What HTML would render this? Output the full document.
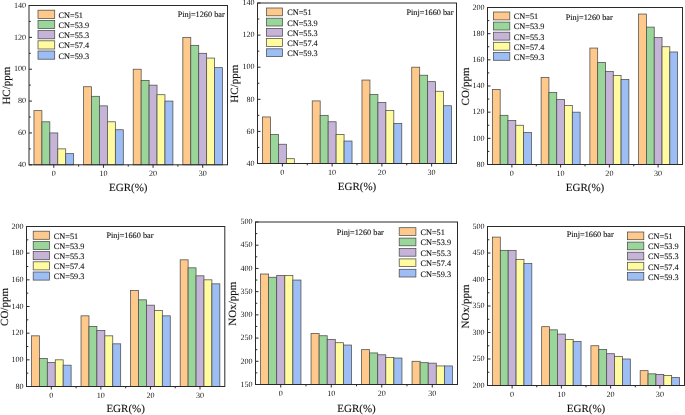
<!DOCTYPE html>
<html><head><meta charset="utf-8"><title>Charts</title>
<style>
html,body{margin:0;padding:0;background:#fff;}
body{width:685px;height:415px;overflow:hidden;}
svg{display:block;will-change:transform;}
svg text.t{stroke:none;fill:#1a1a1a;}
svg text{font-family:"Liberation Serif", serif;fill:#111;text-rendering:geometricPrecision;stroke:#111;stroke-width:0.22px;stroke-opacity:0.5;stroke-linejoin:round;stroke-linecap:round;paint-order:stroke fill;}
</style></head><body>
<svg width="685" height="415" viewBox="0 0 685 415">
<rect width="685" height="415" fill="#fff"/>
<rect x="33.96" y="110.64" width="7.94" height="54.16" fill="#FFC98C" stroke="#4c4c4c" stroke-width="0.75"/>
<rect x="41.9" y="121.79" width="7.94" height="43.01" fill="#9AD59A" stroke="#4c4c4c" stroke-width="0.75"/>
<rect x="49.84" y="132.94" width="7.94" height="31.86" fill="#C5B4D8" stroke="#4c4c4c" stroke-width="0.75"/>
<rect x="57.78" y="148.87" width="7.94" height="15.93" fill="#FFFB9E" stroke="#4c4c4c" stroke-width="0.75"/>
<rect x="65.72" y="153.65" width="7.94" height="11.15" fill="#9DBDF5" stroke="#4c4c4c" stroke-width="0.75"/>
<rect x="83.59" y="86.74" width="7.94" height="78.06" fill="#FFC98C" stroke="#4c4c4c" stroke-width="0.75"/>
<rect x="91.53" y="96.3" width="7.94" height="68.5" fill="#9AD59A" stroke="#4c4c4c" stroke-width="0.75"/>
<rect x="99.47" y="105.86" width="7.94" height="58.94" fill="#C5B4D8" stroke="#4c4c4c" stroke-width="0.75"/>
<rect x="107.41" y="121.79" width="7.94" height="43.01" fill="#FFFB9E" stroke="#4c4c4c" stroke-width="0.75"/>
<rect x="115.35" y="129.75" width="7.94" height="35.05" fill="#9DBDF5" stroke="#4c4c4c" stroke-width="0.75"/>
<rect x="133.21" y="69.22" width="7.94" height="95.58" fill="#FFC98C" stroke="#4c4c4c" stroke-width="0.75"/>
<rect x="141.15" y="80.37" width="7.94" height="84.43" fill="#9AD59A" stroke="#4c4c4c" stroke-width="0.75"/>
<rect x="149.09" y="85.15" width="7.94" height="79.65" fill="#C5B4D8" stroke="#4c4c4c" stroke-width="0.75"/>
<rect x="157.03" y="94.71" width="7.94" height="70.09" fill="#FFFB9E" stroke="#4c4c4c" stroke-width="0.75"/>
<rect x="164.97" y="101.08" width="7.94" height="63.72" fill="#9DBDF5" stroke="#4c4c4c" stroke-width="0.75"/>
<rect x="182.84" y="37.36" width="7.94" height="127.44" fill="#FFC98C" stroke="#4c4c4c" stroke-width="0.75"/>
<rect x="190.78" y="45.33" width="7.94" height="119.48" fill="#9AD59A" stroke="#4c4c4c" stroke-width="0.75"/>
<rect x="198.72" y="53.29" width="7.94" height="111.51" fill="#C5B4D8" stroke="#4c4c4c" stroke-width="0.75"/>
<rect x="206.66" y="58.07" width="7.94" height="106.73" fill="#FFFB9E" stroke="#4c4c4c" stroke-width="0.75"/>
<rect x="214.6" y="67.63" width="7.94" height="97.17" fill="#9DBDF5" stroke="#4c4c4c" stroke-width="0.75"/>
<rect x="29" y="5.5" width="198.5" height="159.3" fill="none" stroke="#2a2a2a" stroke-width="1"/>
<line x1="29" y1="164.8" x2="32" y2="164.8" stroke="#2a2a2a" stroke-width="1"/>
<text x="26.1" y="167.05" class="t" text-anchor="end" font-size="8.1">40</text>
<line x1="29" y1="148.87" x2="30.8" y2="148.87" stroke="#2a2a2a" stroke-width="1"/>
<line x1="29" y1="132.94" x2="32" y2="132.94" stroke="#2a2a2a" stroke-width="1"/>
<text x="26.1" y="135.19" class="t" text-anchor="end" font-size="8.1">60</text>
<line x1="29" y1="117.01" x2="30.8" y2="117.01" stroke="#2a2a2a" stroke-width="1"/>
<line x1="29" y1="101.08" x2="32" y2="101.08" stroke="#2a2a2a" stroke-width="1"/>
<text x="26.1" y="103.33" class="t" text-anchor="end" font-size="8.1">80</text>
<line x1="29" y1="85.15" x2="30.8" y2="85.15" stroke="#2a2a2a" stroke-width="1"/>
<line x1="29" y1="69.22" x2="32" y2="69.22" stroke="#2a2a2a" stroke-width="1"/>
<text x="26.1" y="71.47" class="t" text-anchor="end" font-size="8.1">100</text>
<line x1="29" y1="53.29" x2="30.8" y2="53.29" stroke="#2a2a2a" stroke-width="1"/>
<line x1="29" y1="37.36" x2="32" y2="37.36" stroke="#2a2a2a" stroke-width="1"/>
<text x="26.1" y="39.61" class="t" text-anchor="end" font-size="8.1">120</text>
<line x1="29" y1="21.43" x2="30.8" y2="21.43" stroke="#2a2a2a" stroke-width="1"/>
<line x1="29" y1="5.5" x2="32" y2="5.5" stroke="#2a2a2a" stroke-width="1"/>
<text x="26.1" y="7.75" class="t" text-anchor="end" font-size="8.1">140</text>
<line x1="53.81" y1="164.8" x2="53.81" y2="167.8" stroke="#2a2a2a" stroke-width="1"/>
<text x="53.81" y="176" class="t" text-anchor="middle" font-size="8.1">0</text>
<line x1="103.44" y1="164.8" x2="103.44" y2="167.8" stroke="#2a2a2a" stroke-width="1"/>
<text x="103.44" y="176" class="t" text-anchor="middle" font-size="8.1">10</text>
<line x1="153.06" y1="164.8" x2="153.06" y2="167.8" stroke="#2a2a2a" stroke-width="1"/>
<text x="153.06" y="176" class="t" text-anchor="middle" font-size="8.1">20</text>
<line x1="202.69" y1="164.8" x2="202.69" y2="167.8" stroke="#2a2a2a" stroke-width="1"/>
<text x="202.69" y="176" class="t" text-anchor="middle" font-size="8.1">30</text>
<line x1="78.62" y1="164.8" x2="78.62" y2="166.6" stroke="#2a2a2a" stroke-width="1"/>
<line x1="128.25" y1="164.8" x2="128.25" y2="166.6" stroke="#2a2a2a" stroke-width="1"/>
<line x1="177.88" y1="164.8" x2="177.88" y2="166.6" stroke="#2a2a2a" stroke-width="1"/>
<rect x="38" y="10.2" width="16.7" height="8.2" fill="#FFC98C" stroke="#4c4c4c" stroke-width="0.75"/>
<text x="58.6" y="17.7" font-size="8.25">CN=51</text>
<rect x="38" y="20.4" width="16.7" height="8.2" fill="#9AD59A" stroke="#4c4c4c" stroke-width="0.75"/>
<text x="58.6" y="27.9" font-size="8.25">CN=53.9</text>
<rect x="38" y="30.6" width="16.7" height="8.2" fill="#C5B4D8" stroke="#4c4c4c" stroke-width="0.75"/>
<text x="58.6" y="38.1" font-size="8.25">CN=55.3</text>
<rect x="38" y="40.8" width="16.7" height="8.2" fill="#FFFB9E" stroke="#4c4c4c" stroke-width="0.75"/>
<text x="58.6" y="48.3" font-size="8.25">CN=57.4</text>
<rect x="38" y="51" width="16.7" height="8.2" fill="#9DBDF5" stroke="#4c4c4c" stroke-width="0.75"/>
<text x="58.6" y="58.5" font-size="8.25">CN=59.3</text>
<text x="224.7" y="17.4" text-anchor="end" font-size="8.25">Pinj=1260 bar</text>
<text transform="translate(9.9,85.65) rotate(-90)" text-anchor="middle" font-size="11.0">HC/ppm</text>
<text x="128.25" y="191" text-anchor="middle" font-size="11.0">EGR(%)</text>
<rect x="262.48" y="116.96" width="7.96" height="46.54" fill="#FFC98C" stroke="#4c4c4c" stroke-width="0.75"/>
<rect x="270.44" y="134.61" width="7.96" height="28.89" fill="#9AD59A" stroke="#4c4c4c" stroke-width="0.75"/>
<rect x="278.4" y="144.24" width="7.96" height="19.26" fill="#C5B4D8" stroke="#4c4c4c" stroke-width="0.75"/>
<rect x="286.36" y="158.69" width="7.96" height="4.81" fill="#FFFB9E" stroke="#4c4c4c" stroke-width="0.75"/>
<rect x="312.23" y="100.91" width="7.96" height="62.59" fill="#FFC98C" stroke="#4c4c4c" stroke-width="0.75"/>
<rect x="320.19" y="115.35" width="7.96" height="48.15" fill="#9AD59A" stroke="#4c4c4c" stroke-width="0.75"/>
<rect x="328.15" y="121.77" width="7.96" height="41.73" fill="#C5B4D8" stroke="#4c4c4c" stroke-width="0.75"/>
<rect x="336.11" y="134.61" width="7.96" height="28.89" fill="#FFFB9E" stroke="#4c4c4c" stroke-width="0.75"/>
<rect x="344.07" y="141.03" width="7.96" height="22.47" fill="#9DBDF5" stroke="#4c4c4c" stroke-width="0.75"/>
<rect x="361.98" y="80.04" width="7.96" height="83.46" fill="#FFC98C" stroke="#4c4c4c" stroke-width="0.75"/>
<rect x="369.94" y="94.48" width="7.96" height="69.02" fill="#9AD59A" stroke="#4c4c4c" stroke-width="0.75"/>
<rect x="377.9" y="102.51" width="7.96" height="60.99" fill="#C5B4D8" stroke="#4c4c4c" stroke-width="0.75"/>
<rect x="385.86" y="110.53" width="7.96" height="52.97" fill="#FFFB9E" stroke="#4c4c4c" stroke-width="0.75"/>
<rect x="393.82" y="123.38" width="7.96" height="40.12" fill="#9DBDF5" stroke="#4c4c4c" stroke-width="0.75"/>
<rect x="411.73" y="67.2" width="7.96" height="96.3" fill="#FFC98C" stroke="#4c4c4c" stroke-width="0.75"/>
<rect x="419.69" y="75.22" width="7.96" height="88.28" fill="#9AD59A" stroke="#4c4c4c" stroke-width="0.75"/>
<rect x="427.65" y="81.64" width="7.96" height="81.86" fill="#C5B4D8" stroke="#4c4c4c" stroke-width="0.75"/>
<rect x="435.61" y="91.27" width="7.96" height="72.23" fill="#FFFB9E" stroke="#4c4c4c" stroke-width="0.75"/>
<rect x="443.57" y="105.72" width="7.96" height="57.78" fill="#9DBDF5" stroke="#4c4c4c" stroke-width="0.75"/>
<rect x="257.5" y="3" width="199" height="160.5" fill="none" stroke="#2a2a2a" stroke-width="1"/>
<line x1="257.5" y1="163.5" x2="260.5" y2="163.5" stroke="#2a2a2a" stroke-width="1"/>
<text x="254.6" y="165.75" class="t" text-anchor="end" font-size="8.1">40</text>
<line x1="257.5" y1="147.45" x2="259.3" y2="147.45" stroke="#2a2a2a" stroke-width="1"/>
<line x1="257.5" y1="131.4" x2="260.5" y2="131.4" stroke="#2a2a2a" stroke-width="1"/>
<text x="254.6" y="133.65" class="t" text-anchor="end" font-size="8.1">60</text>
<line x1="257.5" y1="115.35" x2="259.3" y2="115.35" stroke="#2a2a2a" stroke-width="1"/>
<line x1="257.5" y1="99.3" x2="260.5" y2="99.3" stroke="#2a2a2a" stroke-width="1"/>
<text x="254.6" y="101.55" class="t" text-anchor="end" font-size="8.1">80</text>
<line x1="257.5" y1="83.25" x2="259.3" y2="83.25" stroke="#2a2a2a" stroke-width="1"/>
<line x1="257.5" y1="67.2" x2="260.5" y2="67.2" stroke="#2a2a2a" stroke-width="1"/>
<text x="254.6" y="69.45" class="t" text-anchor="end" font-size="8.1">100</text>
<line x1="257.5" y1="51.15" x2="259.3" y2="51.15" stroke="#2a2a2a" stroke-width="1"/>
<line x1="257.5" y1="35.1" x2="260.5" y2="35.1" stroke="#2a2a2a" stroke-width="1"/>
<text x="254.6" y="37.35" class="t" text-anchor="end" font-size="8.1">120</text>
<line x1="257.5" y1="19.05" x2="259.3" y2="19.05" stroke="#2a2a2a" stroke-width="1"/>
<line x1="257.5" y1="3" x2="260.5" y2="3" stroke="#2a2a2a" stroke-width="1"/>
<text x="254.6" y="5.25" class="t" text-anchor="end" font-size="8.1">140</text>
<line x1="282.38" y1="163.5" x2="282.38" y2="166.5" stroke="#2a2a2a" stroke-width="1"/>
<text x="282.38" y="174.7" class="t" text-anchor="middle" font-size="8.1">0</text>
<line x1="332.12" y1="163.5" x2="332.12" y2="166.5" stroke="#2a2a2a" stroke-width="1"/>
<text x="332.12" y="174.7" class="t" text-anchor="middle" font-size="8.1">10</text>
<line x1="381.88" y1="163.5" x2="381.88" y2="166.5" stroke="#2a2a2a" stroke-width="1"/>
<text x="381.88" y="174.7" class="t" text-anchor="middle" font-size="8.1">20</text>
<line x1="431.62" y1="163.5" x2="431.62" y2="166.5" stroke="#2a2a2a" stroke-width="1"/>
<text x="431.62" y="174.7" class="t" text-anchor="middle" font-size="8.1">30</text>
<line x1="307.25" y1="163.5" x2="307.25" y2="165.3" stroke="#2a2a2a" stroke-width="1"/>
<line x1="357" y1="163.5" x2="357" y2="165.3" stroke="#2a2a2a" stroke-width="1"/>
<line x1="406.75" y1="163.5" x2="406.75" y2="165.3" stroke="#2a2a2a" stroke-width="1"/>
<rect x="266.5" y="8" width="16" height="7.8" fill="#FFC98C" stroke="#4c4c4c" stroke-width="0.75"/>
<text x="287.2" y="15.3" font-size="8.25">CN=51</text>
<rect x="266.5" y="18.2" width="16" height="7.8" fill="#9AD59A" stroke="#4c4c4c" stroke-width="0.75"/>
<text x="287.2" y="25.5" font-size="8.25">CN=53.9</text>
<rect x="266.5" y="28.4" width="16" height="7.8" fill="#C5B4D8" stroke="#4c4c4c" stroke-width="0.75"/>
<text x="287.2" y="35.7" font-size="8.25">CN=55.3</text>
<rect x="266.5" y="38.6" width="16" height="7.8" fill="#FFFB9E" stroke="#4c4c4c" stroke-width="0.75"/>
<text x="287.2" y="45.9" font-size="8.25">CN=57.4</text>
<rect x="266.5" y="48.8" width="16" height="7.8" fill="#9DBDF5" stroke="#4c4c4c" stroke-width="0.75"/>
<text x="287.2" y="56.1" font-size="8.25">CN=59.3</text>
<text x="453.5" y="14.5" text-anchor="end" font-size="8.25">Pinj=1660 bar</text>
<text transform="translate(238,83.75) rotate(-90)" text-anchor="middle" font-size="11.0">HC/ppm</text>
<text x="357" y="190" text-anchor="middle" font-size="11.0">EGR(%)</text>
<rect x="492.38" y="89.4" width="7.8" height="75.1" fill="#FFC98C" stroke="#4c4c4c" stroke-width="0.75"/>
<rect x="500.18" y="115.31" width="7.8" height="49.19" fill="#9AD59A" stroke="#4c4c4c" stroke-width="0.75"/>
<rect x="507.98" y="120.54" width="7.8" height="43.96" fill="#C5B4D8" stroke="#4c4c4c" stroke-width="0.75"/>
<rect x="515.77" y="125.25" width="7.8" height="39.25" fill="#FFFB9E" stroke="#4c4c4c" stroke-width="0.75"/>
<rect x="523.58" y="132.58" width="7.8" height="31.92" fill="#9DBDF5" stroke="#4c4c4c" stroke-width="0.75"/>
<rect x="541.12" y="77.37" width="7.8" height="87.13" fill="#FFC98C" stroke="#4c4c4c" stroke-width="0.75"/>
<rect x="548.92" y="92.54" width="7.8" height="71.96" fill="#9AD59A" stroke="#4c4c4c" stroke-width="0.75"/>
<rect x="556.73" y="99.61" width="7.8" height="64.89" fill="#C5B4D8" stroke="#4c4c4c" stroke-width="0.75"/>
<rect x="564.52" y="105.62" width="7.8" height="58.88" fill="#FFFB9E" stroke="#4c4c4c" stroke-width="0.75"/>
<rect x="572.33" y="112.17" width="7.8" height="52.33" fill="#9DBDF5" stroke="#4c4c4c" stroke-width="0.75"/>
<rect x="589.88" y="48.06" width="7.8" height="116.44" fill="#FFC98C" stroke="#4c4c4c" stroke-width="0.75"/>
<rect x="597.67" y="62.45" width="7.8" height="102.05" fill="#9AD59A" stroke="#4c4c4c" stroke-width="0.75"/>
<rect x="605.48" y="71.61" width="7.8" height="92.89" fill="#C5B4D8" stroke="#4c4c4c" stroke-width="0.75"/>
<rect x="613.27" y="75.53" width="7.8" height="88.97" fill="#FFFB9E" stroke="#4c4c4c" stroke-width="0.75"/>
<rect x="621.08" y="79.46" width="7.8" height="85.04" fill="#9DBDF5" stroke="#4c4c4c" stroke-width="0.75"/>
<rect x="638.62" y="14.04" width="7.8" height="150.46" fill="#FFC98C" stroke="#4c4c4c" stroke-width="0.75"/>
<rect x="646.42" y="27.12" width="7.8" height="137.38" fill="#9AD59A" stroke="#4c4c4c" stroke-width="0.75"/>
<rect x="654.23" y="37.59" width="7.8" height="126.91" fill="#C5B4D8" stroke="#4c4c4c" stroke-width="0.75"/>
<rect x="662.02" y="46.75" width="7.8" height="117.75" fill="#FFFB9E" stroke="#4c4c4c" stroke-width="0.75"/>
<rect x="669.83" y="51.98" width="7.8" height="112.52" fill="#9DBDF5" stroke="#4c4c4c" stroke-width="0.75"/>
<rect x="487.5" y="7.5" width="195" height="157" fill="none" stroke="#2a2a2a" stroke-width="1"/>
<line x1="487.5" y1="164.5" x2="490.5" y2="164.5" stroke="#2a2a2a" stroke-width="1"/>
<text x="484.6" y="166.75" class="t" text-anchor="end" font-size="8.1">80</text>
<line x1="487.5" y1="151.42" x2="489.3" y2="151.42" stroke="#2a2a2a" stroke-width="1"/>
<line x1="487.5" y1="138.33" x2="490.5" y2="138.33" stroke="#2a2a2a" stroke-width="1"/>
<text x="484.6" y="140.58" class="t" text-anchor="end" font-size="8.1">100</text>
<line x1="487.5" y1="125.25" x2="489.3" y2="125.25" stroke="#2a2a2a" stroke-width="1"/>
<line x1="487.5" y1="112.17" x2="490.5" y2="112.17" stroke="#2a2a2a" stroke-width="1"/>
<text x="484.6" y="114.42" class="t" text-anchor="end" font-size="8.1">120</text>
<line x1="487.5" y1="99.08" x2="489.3" y2="99.08" stroke="#2a2a2a" stroke-width="1"/>
<line x1="487.5" y1="86" x2="490.5" y2="86" stroke="#2a2a2a" stroke-width="1"/>
<text x="484.6" y="88.25" class="t" text-anchor="end" font-size="8.1">140</text>
<line x1="487.5" y1="72.92" x2="489.3" y2="72.92" stroke="#2a2a2a" stroke-width="1"/>
<line x1="487.5" y1="59.83" x2="490.5" y2="59.83" stroke="#2a2a2a" stroke-width="1"/>
<text x="484.6" y="62.08" class="t" text-anchor="end" font-size="8.1">160</text>
<line x1="487.5" y1="46.75" x2="489.3" y2="46.75" stroke="#2a2a2a" stroke-width="1"/>
<line x1="487.5" y1="33.67" x2="490.5" y2="33.67" stroke="#2a2a2a" stroke-width="1"/>
<text x="484.6" y="35.92" class="t" text-anchor="end" font-size="8.1">180</text>
<line x1="487.5" y1="20.58" x2="489.3" y2="20.58" stroke="#2a2a2a" stroke-width="1"/>
<line x1="487.5" y1="7.5" x2="490.5" y2="7.5" stroke="#2a2a2a" stroke-width="1"/>
<text x="484.6" y="9.75" class="t" text-anchor="end" font-size="8.1">200</text>
<line x1="511.88" y1="164.5" x2="511.88" y2="167.5" stroke="#2a2a2a" stroke-width="1"/>
<text x="511.88" y="175.7" class="t" text-anchor="middle" font-size="8.1">0</text>
<line x1="560.62" y1="164.5" x2="560.62" y2="167.5" stroke="#2a2a2a" stroke-width="1"/>
<text x="560.62" y="175.7" class="t" text-anchor="middle" font-size="8.1">10</text>
<line x1="609.38" y1="164.5" x2="609.38" y2="167.5" stroke="#2a2a2a" stroke-width="1"/>
<text x="609.38" y="175.7" class="t" text-anchor="middle" font-size="8.1">20</text>
<line x1="658.12" y1="164.5" x2="658.12" y2="167.5" stroke="#2a2a2a" stroke-width="1"/>
<text x="658.12" y="175.7" class="t" text-anchor="middle" font-size="8.1">30</text>
<line x1="536.25" y1="164.5" x2="536.25" y2="166.3" stroke="#2a2a2a" stroke-width="1"/>
<line x1="585" y1="164.5" x2="585" y2="166.3" stroke="#2a2a2a" stroke-width="1"/>
<line x1="633.75" y1="164.5" x2="633.75" y2="166.3" stroke="#2a2a2a" stroke-width="1"/>
<rect x="493.4" y="12" width="16.4" height="7.9" fill="#FFC98C" stroke="#4c4c4c" stroke-width="0.75"/>
<text x="513.8" y="19.35" font-size="8.25">CN=51</text>
<rect x="493.4" y="22.1" width="16.4" height="7.9" fill="#9AD59A" stroke="#4c4c4c" stroke-width="0.75"/>
<text x="513.8" y="29.45" font-size="8.25">CN=53.9</text>
<rect x="493.4" y="32.2" width="16.4" height="7.9" fill="#C5B4D8" stroke="#4c4c4c" stroke-width="0.75"/>
<text x="513.8" y="39.55" font-size="8.25">CN=55.3</text>
<rect x="493.4" y="42.3" width="16.4" height="7.9" fill="#FFFB9E" stroke="#4c4c4c" stroke-width="0.75"/>
<text x="513.8" y="49.65" font-size="8.25">CN=57.4</text>
<rect x="493.4" y="52.4" width="16.4" height="7.9" fill="#9DBDF5" stroke="#4c4c4c" stroke-width="0.75"/>
<text x="513.8" y="59.75" font-size="8.25">CN=59.3</text>
<text x="565.7" y="19.8" text-anchor="start" font-size="8.25">Pinj=1260 bar</text>
<text transform="translate(468.8,86.5) rotate(-90)" text-anchor="middle" font-size="11.0">CO/ppm</text>
<text x="585" y="191" text-anchor="middle" font-size="11.0">EGR(%)</text>
<rect x="31.46" y="335.83" width="7.93" height="50.67" fill="#FFC98C" stroke="#4c4c4c" stroke-width="0.75"/>
<rect x="39.39" y="358.5" width="7.93" height="28" fill="#9AD59A" stroke="#4c4c4c" stroke-width="0.75"/>
<rect x="47.32" y="362.5" width="7.93" height="24" fill="#C5B4D8" stroke="#4c4c4c" stroke-width="0.75"/>
<rect x="55.25" y="359.83" width="7.93" height="26.67" fill="#FFFB9E" stroke="#4c4c4c" stroke-width="0.75"/>
<rect x="63.19" y="365.17" width="7.93" height="21.33" fill="#9DBDF5" stroke="#4c4c4c" stroke-width="0.75"/>
<rect x="81.03" y="315.83" width="7.93" height="70.67" fill="#FFC98C" stroke="#4c4c4c" stroke-width="0.75"/>
<rect x="88.96" y="326.5" width="7.93" height="60" fill="#9AD59A" stroke="#4c4c4c" stroke-width="0.75"/>
<rect x="96.9" y="330.5" width="7.93" height="56" fill="#C5B4D8" stroke="#4c4c4c" stroke-width="0.75"/>
<rect x="104.83" y="335.83" width="7.93" height="50.67" fill="#FFFB9E" stroke="#4c4c4c" stroke-width="0.75"/>
<rect x="112.76" y="343.83" width="7.93" height="42.67" fill="#9DBDF5" stroke="#4c4c4c" stroke-width="0.75"/>
<rect x="130.61" y="290.5" width="7.93" height="96" fill="#FFC98C" stroke="#4c4c4c" stroke-width="0.75"/>
<rect x="138.54" y="299.83" width="7.93" height="86.67" fill="#9AD59A" stroke="#4c4c4c" stroke-width="0.75"/>
<rect x="146.47" y="305.17" width="7.93" height="81.33" fill="#C5B4D8" stroke="#4c4c4c" stroke-width="0.75"/>
<rect x="154.4" y="310.5" width="7.93" height="76" fill="#FFFB9E" stroke="#4c4c4c" stroke-width="0.75"/>
<rect x="162.34" y="315.83" width="7.93" height="70.67" fill="#9DBDF5" stroke="#4c4c4c" stroke-width="0.75"/>
<rect x="180.18" y="259.83" width="7.93" height="126.67" fill="#FFC98C" stroke="#4c4c4c" stroke-width="0.75"/>
<rect x="188.11" y="267.83" width="7.93" height="118.67" fill="#9AD59A" stroke="#4c4c4c" stroke-width="0.75"/>
<rect x="196.05" y="275.83" width="7.93" height="110.67" fill="#C5B4D8" stroke="#4c4c4c" stroke-width="0.75"/>
<rect x="203.98" y="279.83" width="7.93" height="106.67" fill="#FFFB9E" stroke="#4c4c4c" stroke-width="0.75"/>
<rect x="211.91" y="283.83" width="7.93" height="102.67" fill="#9DBDF5" stroke="#4c4c4c" stroke-width="0.75"/>
<rect x="26.5" y="226.5" width="198.3" height="160" fill="none" stroke="#2a2a2a" stroke-width="1"/>
<line x1="26.5" y1="386.5" x2="29.5" y2="386.5" stroke="#2a2a2a" stroke-width="1"/>
<text x="23.6" y="388.75" class="t" text-anchor="end" font-size="8.1">80</text>
<line x1="26.5" y1="373.17" x2="28.3" y2="373.17" stroke="#2a2a2a" stroke-width="1"/>
<line x1="26.5" y1="359.83" x2="29.5" y2="359.83" stroke="#2a2a2a" stroke-width="1"/>
<text x="23.6" y="362.08" class="t" text-anchor="end" font-size="8.1">100</text>
<line x1="26.5" y1="346.5" x2="28.3" y2="346.5" stroke="#2a2a2a" stroke-width="1"/>
<line x1="26.5" y1="333.17" x2="29.5" y2="333.17" stroke="#2a2a2a" stroke-width="1"/>
<text x="23.6" y="335.42" class="t" text-anchor="end" font-size="8.1">120</text>
<line x1="26.5" y1="319.83" x2="28.3" y2="319.83" stroke="#2a2a2a" stroke-width="1"/>
<line x1="26.5" y1="306.5" x2="29.5" y2="306.5" stroke="#2a2a2a" stroke-width="1"/>
<text x="23.6" y="308.75" class="t" text-anchor="end" font-size="8.1">140</text>
<line x1="26.5" y1="293.17" x2="28.3" y2="293.17" stroke="#2a2a2a" stroke-width="1"/>
<line x1="26.5" y1="279.83" x2="29.5" y2="279.83" stroke="#2a2a2a" stroke-width="1"/>
<text x="23.6" y="282.08" class="t" text-anchor="end" font-size="8.1">160</text>
<line x1="26.5" y1="266.5" x2="28.3" y2="266.5" stroke="#2a2a2a" stroke-width="1"/>
<line x1="26.5" y1="253.17" x2="29.5" y2="253.17" stroke="#2a2a2a" stroke-width="1"/>
<text x="23.6" y="255.42" class="t" text-anchor="end" font-size="8.1">180</text>
<line x1="26.5" y1="239.83" x2="28.3" y2="239.83" stroke="#2a2a2a" stroke-width="1"/>
<line x1="26.5" y1="226.5" x2="29.5" y2="226.5" stroke="#2a2a2a" stroke-width="1"/>
<text x="23.6" y="228.75" class="t" text-anchor="end" font-size="8.1">200</text>
<line x1="51.29" y1="386.5" x2="51.29" y2="389.5" stroke="#2a2a2a" stroke-width="1"/>
<text x="51.29" y="397.7" class="t" text-anchor="middle" font-size="8.1">0</text>
<line x1="100.86" y1="386.5" x2="100.86" y2="389.5" stroke="#2a2a2a" stroke-width="1"/>
<text x="100.86" y="397.7" class="t" text-anchor="middle" font-size="8.1">10</text>
<line x1="150.44" y1="386.5" x2="150.44" y2="389.5" stroke="#2a2a2a" stroke-width="1"/>
<text x="150.44" y="397.7" class="t" text-anchor="middle" font-size="8.1">20</text>
<line x1="200.01" y1="386.5" x2="200.01" y2="389.5" stroke="#2a2a2a" stroke-width="1"/>
<text x="200.01" y="397.7" class="t" text-anchor="middle" font-size="8.1">30</text>
<line x1="76.08" y1="386.5" x2="76.08" y2="388.3" stroke="#2a2a2a" stroke-width="1"/>
<line x1="125.65" y1="386.5" x2="125.65" y2="388.3" stroke="#2a2a2a" stroke-width="1"/>
<line x1="175.23" y1="386.5" x2="175.23" y2="388.3" stroke="#2a2a2a" stroke-width="1"/>
<rect x="33.2" y="231.2" width="16.3" height="8.1" fill="#FFC98C" stroke="#4c4c4c" stroke-width="0.75"/>
<text x="53.8" y="238.65" font-size="8.25">CN=51</text>
<rect x="33.2" y="241.4" width="16.3" height="8.1" fill="#9AD59A" stroke="#4c4c4c" stroke-width="0.75"/>
<text x="53.8" y="248.85" font-size="8.25">CN=53.9</text>
<rect x="33.2" y="251.6" width="16.3" height="8.1" fill="#C5B4D8" stroke="#4c4c4c" stroke-width="0.75"/>
<text x="53.8" y="259.05" font-size="8.25">CN=55.3</text>
<rect x="33.2" y="261.8" width="16.3" height="8.1" fill="#FFFB9E" stroke="#4c4c4c" stroke-width="0.75"/>
<text x="53.8" y="269.25" font-size="8.25">CN=57.4</text>
<rect x="33.2" y="272" width="16.3" height="8.1" fill="#9DBDF5" stroke="#4c4c4c" stroke-width="0.75"/>
<text x="53.8" y="279.45" font-size="8.25">CN=59.3</text>
<text x="106.4" y="237.9" text-anchor="start" font-size="8.25">Pinj=1660 bar</text>
<text transform="translate(8,307) rotate(-90)" text-anchor="middle" font-size="11.0">CO/ppm</text>
<text x="125.65" y="412" text-anchor="middle" font-size="11.0">EGR(%)</text>
<rect x="260.55" y="274" width="8.08" height="110.5" fill="#FFC98C" stroke="#4c4c4c" stroke-width="0.75"/>
<rect x="268.63" y="277.25" width="8.08" height="107.25" fill="#9AD59A" stroke="#4c4c4c" stroke-width="0.75"/>
<rect x="276.71" y="275.39" width="8.08" height="109.11" fill="#C5B4D8" stroke="#4c4c4c" stroke-width="0.75"/>
<rect x="284.79" y="275.39" width="8.08" height="109.11" fill="#FFFB9E" stroke="#4c4c4c" stroke-width="0.75"/>
<rect x="292.87" y="280.04" width="8.08" height="104.46" fill="#9DBDF5" stroke="#4c4c4c" stroke-width="0.75"/>
<rect x="311.05" y="333.43" width="8.08" height="51.07" fill="#FFC98C" stroke="#4c4c4c" stroke-width="0.75"/>
<rect x="319.13" y="335.75" width="8.08" height="48.75" fill="#9AD59A" stroke="#4c4c4c" stroke-width="0.75"/>
<rect x="327.21" y="339.46" width="8.08" height="45.04" fill="#C5B4D8" stroke="#4c4c4c" stroke-width="0.75"/>
<rect x="335.29" y="342.71" width="8.08" height="41.79" fill="#FFFB9E" stroke="#4c4c4c" stroke-width="0.75"/>
<rect x="343.37" y="345.04" width="8.08" height="39.46" fill="#9DBDF5" stroke="#4c4c4c" stroke-width="0.75"/>
<rect x="361.55" y="349.68" width="8.08" height="34.82" fill="#FFC98C" stroke="#4c4c4c" stroke-width="0.75"/>
<rect x="369.63" y="352.93" width="8.08" height="31.57" fill="#9AD59A" stroke="#4c4c4c" stroke-width="0.75"/>
<rect x="377.71" y="354.79" width="8.08" height="29.71" fill="#C5B4D8" stroke="#4c4c4c" stroke-width="0.75"/>
<rect x="385.79" y="357.57" width="8.08" height="26.93" fill="#FFFB9E" stroke="#4c4c4c" stroke-width="0.75"/>
<rect x="393.87" y="358.04" width="8.08" height="26.46" fill="#9DBDF5" stroke="#4c4c4c" stroke-width="0.75"/>
<rect x="412.05" y="361.29" width="8.08" height="23.21" fill="#FFC98C" stroke="#4c4c4c" stroke-width="0.75"/>
<rect x="420.13" y="362.68" width="8.08" height="21.82" fill="#9AD59A" stroke="#4c4c4c" stroke-width="0.75"/>
<rect x="428.21" y="363.14" width="8.08" height="21.36" fill="#C5B4D8" stroke="#4c4c4c" stroke-width="0.75"/>
<rect x="436.29" y="365.93" width="8.08" height="18.57" fill="#FFFB9E" stroke="#4c4c4c" stroke-width="0.75"/>
<rect x="444.37" y="365.93" width="8.08" height="18.57" fill="#9DBDF5" stroke="#4c4c4c" stroke-width="0.75"/>
<rect x="255.5" y="222" width="202" height="162.5" fill="none" stroke="#2a2a2a" stroke-width="1"/>
<line x1="255.5" y1="384.5" x2="258.5" y2="384.5" stroke="#2a2a2a" stroke-width="1"/>
<text x="252.6" y="386.75" class="t" text-anchor="end" font-size="8.1">150</text>
<line x1="255.5" y1="372.89" x2="257.3" y2="372.89" stroke="#2a2a2a" stroke-width="1"/>
<line x1="255.5" y1="361.29" x2="258.5" y2="361.29" stroke="#2a2a2a" stroke-width="1"/>
<text x="252.6" y="363.54" class="t" text-anchor="end" font-size="8.1">200</text>
<line x1="255.5" y1="349.68" x2="257.3" y2="349.68" stroke="#2a2a2a" stroke-width="1"/>
<line x1="255.5" y1="338.07" x2="258.5" y2="338.07" stroke="#2a2a2a" stroke-width="1"/>
<text x="252.6" y="340.32" class="t" text-anchor="end" font-size="8.1">250</text>
<line x1="255.5" y1="326.46" x2="257.3" y2="326.46" stroke="#2a2a2a" stroke-width="1"/>
<line x1="255.5" y1="314.86" x2="258.5" y2="314.86" stroke="#2a2a2a" stroke-width="1"/>
<text x="252.6" y="317.11" class="t" text-anchor="end" font-size="8.1">300</text>
<line x1="255.5" y1="303.25" x2="257.3" y2="303.25" stroke="#2a2a2a" stroke-width="1"/>
<line x1="255.5" y1="291.64" x2="258.5" y2="291.64" stroke="#2a2a2a" stroke-width="1"/>
<text x="252.6" y="293.89" class="t" text-anchor="end" font-size="8.1">350</text>
<line x1="255.5" y1="280.04" x2="257.3" y2="280.04" stroke="#2a2a2a" stroke-width="1"/>
<line x1="255.5" y1="268.43" x2="258.5" y2="268.43" stroke="#2a2a2a" stroke-width="1"/>
<text x="252.6" y="270.68" class="t" text-anchor="end" font-size="8.1">400</text>
<line x1="255.5" y1="256.82" x2="257.3" y2="256.82" stroke="#2a2a2a" stroke-width="1"/>
<line x1="255.5" y1="245.21" x2="258.5" y2="245.21" stroke="#2a2a2a" stroke-width="1"/>
<text x="252.6" y="247.46" class="t" text-anchor="end" font-size="8.1">450</text>
<line x1="255.5" y1="233.61" x2="257.3" y2="233.61" stroke="#2a2a2a" stroke-width="1"/>
<line x1="255.5" y1="222" x2="258.5" y2="222" stroke="#2a2a2a" stroke-width="1"/>
<text x="252.6" y="224.25" class="t" text-anchor="end" font-size="8.1">500</text>
<line x1="280.75" y1="384.5" x2="280.75" y2="387.5" stroke="#2a2a2a" stroke-width="1"/>
<text x="280.75" y="395.7" class="t" text-anchor="middle" font-size="8.1">0</text>
<line x1="331.25" y1="384.5" x2="331.25" y2="387.5" stroke="#2a2a2a" stroke-width="1"/>
<text x="331.25" y="395.7" class="t" text-anchor="middle" font-size="8.1">10</text>
<line x1="381.75" y1="384.5" x2="381.75" y2="387.5" stroke="#2a2a2a" stroke-width="1"/>
<text x="381.75" y="395.7" class="t" text-anchor="middle" font-size="8.1">20</text>
<line x1="432.25" y1="384.5" x2="432.25" y2="387.5" stroke="#2a2a2a" stroke-width="1"/>
<text x="432.25" y="395.7" class="t" text-anchor="middle" font-size="8.1">30</text>
<line x1="306" y1="384.5" x2="306" y2="386.3" stroke="#2a2a2a" stroke-width="1"/>
<line x1="356.5" y1="384.5" x2="356.5" y2="386.3" stroke="#2a2a2a" stroke-width="1"/>
<line x1="407" y1="384.5" x2="407" y2="386.3" stroke="#2a2a2a" stroke-width="1"/>
<rect x="399.2" y="227.7" width="16.7" height="7.7" fill="#FFC98C" stroke="#4c4c4c" stroke-width="0.75"/>
<text x="420.5" y="234.95" font-size="8.25">CN=51</text>
<rect x="399.2" y="238.1" width="16.7" height="7.7" fill="#9AD59A" stroke="#4c4c4c" stroke-width="0.75"/>
<text x="420.5" y="245.35" font-size="8.25">CN=53.9</text>
<rect x="399.2" y="248.5" width="16.7" height="7.7" fill="#C5B4D8" stroke="#4c4c4c" stroke-width="0.75"/>
<text x="420.5" y="255.75" font-size="8.25">CN=55.3</text>
<rect x="399.2" y="258.9" width="16.7" height="7.7" fill="#FFFB9E" stroke="#4c4c4c" stroke-width="0.75"/>
<text x="420.5" y="266.15" font-size="8.25">CN=57.4</text>
<rect x="399.2" y="269.3" width="16.7" height="7.7" fill="#9DBDF5" stroke="#4c4c4c" stroke-width="0.75"/>
<text x="420.5" y="276.55" font-size="8.25">CN=59.3</text>
<text x="336.8" y="234.6" text-anchor="start" font-size="8.25">Pinj=1260 bar</text>
<text transform="translate(236,303.75) rotate(-90)" text-anchor="middle" font-size="11.0">NOx/ppm</text>
<text x="356.5" y="412" text-anchor="middle" font-size="11.0">EGR(%)</text>
<rect x="492.43" y="237.1" width="7.88" height="148.4" fill="#FFC98C" stroke="#4c4c4c" stroke-width="0.75"/>
<rect x="500.31" y="250.35" width="7.88" height="135.15" fill="#9AD59A" stroke="#4c4c4c" stroke-width="0.75"/>
<rect x="508.19" y="250.35" width="7.88" height="135.15" fill="#C5B4D8" stroke="#4c4c4c" stroke-width="0.75"/>
<rect x="516.07" y="259.36" width="7.88" height="126.14" fill="#FFFB9E" stroke="#4c4c4c" stroke-width="0.75"/>
<rect x="523.95" y="263.6" width="7.88" height="121.9" fill="#9DBDF5" stroke="#4c4c4c" stroke-width="0.75"/>
<rect x="541.67" y="326.67" width="7.88" height="58.83" fill="#FFC98C" stroke="#4c4c4c" stroke-width="0.75"/>
<rect x="549.55" y="329.85" width="7.88" height="55.65" fill="#9AD59A" stroke="#4c4c4c" stroke-width="0.75"/>
<rect x="557.43" y="334.09" width="7.88" height="51.41" fill="#C5B4D8" stroke="#4c4c4c" stroke-width="0.75"/>
<rect x="565.31" y="339.39" width="7.88" height="46.11" fill="#FFFB9E" stroke="#4c4c4c" stroke-width="0.75"/>
<rect x="573.19" y="341.51" width="7.88" height="43.99" fill="#9DBDF5" stroke="#4c4c4c" stroke-width="0.75"/>
<rect x="590.92" y="345.75" width="7.88" height="39.75" fill="#FFC98C" stroke="#4c4c4c" stroke-width="0.75"/>
<rect x="598.8" y="349.46" width="7.88" height="36.04" fill="#9AD59A" stroke="#4c4c4c" stroke-width="0.75"/>
<rect x="606.68" y="353.7" width="7.88" height="31.8" fill="#C5B4D8" stroke="#4c4c4c" stroke-width="0.75"/>
<rect x="614.56" y="356.35" width="7.88" height="29.15" fill="#FFFB9E" stroke="#4c4c4c" stroke-width="0.75"/>
<rect x="622.44" y="359" width="7.88" height="26.5" fill="#9DBDF5" stroke="#4c4c4c" stroke-width="0.75"/>
<rect x="640.17" y="370.66" width="7.88" height="14.84" fill="#FFC98C" stroke="#4c4c4c" stroke-width="0.75"/>
<rect x="648.05" y="373.84" width="7.88" height="11.66" fill="#9AD59A" stroke="#4c4c4c" stroke-width="0.75"/>
<rect x="655.93" y="374.37" width="7.88" height="11.13" fill="#C5B4D8" stroke="#4c4c4c" stroke-width="0.75"/>
<rect x="663.81" y="375.43" width="7.88" height="10.07" fill="#FFFB9E" stroke="#4c4c4c" stroke-width="0.75"/>
<rect x="671.69" y="377.55" width="7.88" height="7.95" fill="#9DBDF5" stroke="#4c4c4c" stroke-width="0.75"/>
<rect x="487.5" y="226.5" width="197" height="159" fill="none" stroke="#2a2a2a" stroke-width="1"/>
<line x1="487.5" y1="385.5" x2="490.5" y2="385.5" stroke="#2a2a2a" stroke-width="1"/>
<text x="484.6" y="387.75" class="t" text-anchor="end" font-size="8.1">200</text>
<line x1="487.5" y1="372.25" x2="489.3" y2="372.25" stroke="#2a2a2a" stroke-width="1"/>
<line x1="487.5" y1="359" x2="490.5" y2="359" stroke="#2a2a2a" stroke-width="1"/>
<text x="484.6" y="361.25" class="t" text-anchor="end" font-size="8.1">250</text>
<line x1="487.5" y1="345.75" x2="489.3" y2="345.75" stroke="#2a2a2a" stroke-width="1"/>
<line x1="487.5" y1="332.5" x2="490.5" y2="332.5" stroke="#2a2a2a" stroke-width="1"/>
<text x="484.6" y="334.75" class="t" text-anchor="end" font-size="8.1">300</text>
<line x1="487.5" y1="319.25" x2="489.3" y2="319.25" stroke="#2a2a2a" stroke-width="1"/>
<line x1="487.5" y1="306" x2="490.5" y2="306" stroke="#2a2a2a" stroke-width="1"/>
<text x="484.6" y="308.25" class="t" text-anchor="end" font-size="8.1">350</text>
<line x1="487.5" y1="292.75" x2="489.3" y2="292.75" stroke="#2a2a2a" stroke-width="1"/>
<line x1="487.5" y1="279.5" x2="490.5" y2="279.5" stroke="#2a2a2a" stroke-width="1"/>
<text x="484.6" y="281.75" class="t" text-anchor="end" font-size="8.1">400</text>
<line x1="487.5" y1="266.25" x2="489.3" y2="266.25" stroke="#2a2a2a" stroke-width="1"/>
<line x1="487.5" y1="253" x2="490.5" y2="253" stroke="#2a2a2a" stroke-width="1"/>
<text x="484.6" y="255.25" class="t" text-anchor="end" font-size="8.1">450</text>
<line x1="487.5" y1="239.75" x2="489.3" y2="239.75" stroke="#2a2a2a" stroke-width="1"/>
<line x1="487.5" y1="226.5" x2="490.5" y2="226.5" stroke="#2a2a2a" stroke-width="1"/>
<text x="484.6" y="228.75" class="t" text-anchor="end" font-size="8.1">500</text>
<line x1="512.12" y1="385.5" x2="512.12" y2="388.5" stroke="#2a2a2a" stroke-width="1"/>
<text x="512.12" y="396.7" class="t" text-anchor="middle" font-size="8.1">0</text>
<line x1="561.38" y1="385.5" x2="561.38" y2="388.5" stroke="#2a2a2a" stroke-width="1"/>
<text x="561.38" y="396.7" class="t" text-anchor="middle" font-size="8.1">10</text>
<line x1="610.62" y1="385.5" x2="610.62" y2="388.5" stroke="#2a2a2a" stroke-width="1"/>
<text x="610.62" y="396.7" class="t" text-anchor="middle" font-size="8.1">20</text>
<line x1="659.88" y1="385.5" x2="659.88" y2="388.5" stroke="#2a2a2a" stroke-width="1"/>
<text x="659.88" y="396.7" class="t" text-anchor="middle" font-size="8.1">30</text>
<line x1="536.75" y1="385.5" x2="536.75" y2="387.3" stroke="#2a2a2a" stroke-width="1"/>
<line x1="586" y1="385.5" x2="586" y2="387.3" stroke="#2a2a2a" stroke-width="1"/>
<line x1="635.25" y1="385.5" x2="635.25" y2="387.3" stroke="#2a2a2a" stroke-width="1"/>
<rect x="627.4" y="232" width="16.4" height="7.7" fill="#FFC98C" stroke="#4c4c4c" stroke-width="0.75"/>
<text x="648.1" y="239.25" font-size="8.25">CN=51</text>
<rect x="627.4" y="242.1" width="16.4" height="7.7" fill="#9AD59A" stroke="#4c4c4c" stroke-width="0.75"/>
<text x="648.1" y="249.35" font-size="8.25">CN=53.9</text>
<rect x="627.4" y="252.2" width="16.4" height="7.7" fill="#C5B4D8" stroke="#4c4c4c" stroke-width="0.75"/>
<text x="648.1" y="259.45" font-size="8.25">CN=55.3</text>
<rect x="627.4" y="262.3" width="16.4" height="7.7" fill="#FFFB9E" stroke="#4c4c4c" stroke-width="0.75"/>
<text x="648.1" y="269.55" font-size="8.25">CN=57.4</text>
<rect x="627.4" y="272.4" width="16.4" height="7.7" fill="#9DBDF5" stroke="#4c4c4c" stroke-width="0.75"/>
<text x="648.1" y="279.65" font-size="8.25">CN=59.3</text>
<text x="566.7" y="237.4" text-anchor="start" font-size="8.25">Pinj=1660 bar</text>
<text transform="translate(468.9,306.5) rotate(-90)" text-anchor="middle" font-size="11.0">NOx/ppm</text>
<text x="586" y="412" text-anchor="middle" font-size="11.0">EGR(%)</text>
</svg>
</body></html>
